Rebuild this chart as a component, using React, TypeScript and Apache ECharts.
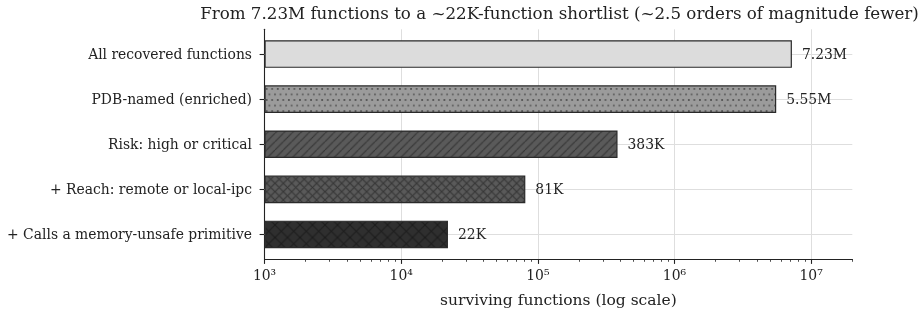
import React, { useEffect, useRef } from 'react';
import * as echarts from 'echarts';

// ---- data ----
const categories = [
  'All recovered functions',
  'PDB-named (enriched)',
  'Risk: high or critical',
  '+ Reach: remote or local-ipc',
  '+ Calls a memory-unsafe primitive',
];
const counts = [7230000, 5550000, 383000, 81000, 22000];
const valueLabels = ['7.23M', '5.55M', '383K', '81K', '22K'];
const majorTicks = [1e3, 1e4, 1e5, 1e6, 1e7];
const minorMultipliers = [2, 3, 4, 5, 6, 7, 8, 9];
const xMin = 1e3;
const xMax = 2e7;
const titleText = 'From 7.23M functions to a ~22K-function shortlist (~2.5 orders of magnitude fewer)';
const xAxisTitle = 'surviving functions (log scale)';

// ---- styles ----
const FONT = 'DejaVu Serif';
const INK = '#222222';
const GRID_COLOR = '#dedede';
const EDGE = '#2a2a2a';
const barLooks = [
  { fill: '#dcdcdc', hatch: 'none', period: 10, ink: '#333333' },
  { fill: '#9b9b9b', hatch: 'dots', period: 11.11, ink: '#2a2a2a' },
  { fill: '#5a5a5a', hatch: 'ne', period: 8.333, ink: '#333333' },
  { fill: '#5a5a5a', hatch: 'cross', period: 8.333, ink: '#333333' },
  { fill: '#2f2f2f', hatch: 'cross', period: 12.5, ink: '#1c1c1c' },
];

const SUP: Record<string, string> = {
  '0': '\u2070', '1': '\u00b9', '2': '\u00b2', '3': '\u00b3', '4': '\u2074',
  '5': '\u2075', '6': '\u2076', '7': '\u2077', '8': '\u2078', '9': '\u2079',
};

function minorTickValues(): number[] {
  const out: number[] = [];
  majorTicks.forEach((d) => {
    minorMultipliers.forEach((m) => {
      const v = m * d;
      if (v <= xMax) out.push(v);
    });
  });
  return out;
}

function makePattern(look: { fill: string; hatch: string; period: number; ink: string }): any {
  if (look.hatch === 'none') return look.fill;
  const N = 120;
  const k = N / look.period;
  const c = document.createElement('canvas');
  c.width = N;
  c.height = N;
  const g = c.getContext('2d')!;
  g.fillStyle = look.fill;
  g.fillRect(0, 0, N, N);
  g.strokeStyle = look.ink;
  g.fillStyle = look.ink;
  g.lineWidth = 1.0 * k;
  if (look.hatch === 'ne' || look.hatch === 'cross') {
    g.beginPath();
    for (let o = -N; o <= N; o += N) {
      g.moveTo(o, N);
      g.lineTo(o + N, 0);
    }
    g.stroke();
  }
  if (look.hatch === 'cross') {
    g.beginPath();
    for (let o = -N; o <= N; o += N) {
      g.moveTo(o, 0);
      g.lineTo(o + N, N);
    }
    g.stroke();
  }
  if (look.hatch === 'dots') {
    const pts = [
      [0, 0], [N / 2, 0], [N / 4, N / 2], [(3 * N) / 4, N / 2],
    ];
    const r = 0.75 * k;
    for (const [px, py] of pts) {
      for (let dx = -N; dx <= N; dx += N) {
        for (let dy = -N; dy <= N; dy += N) {
          g.beginPath();
          g.arc(px + dx, py + dy, r, 0, Math.PI * 2);
          g.fill();
        }
      }
    }
  }
  return {
    image: c.toDataURL(),
    repeat: 'repeat',
    imageWidth: look.period,
    imageHeight: look.period,
  };
}

function supLabel(v: number): string {
  const e = String(Math.round(Math.log10(v)));
  return '10' + e.split('').map((d) => SUP[d]).join('');
}

export default function App() {
  const ref = useRef<HTMLDivElement>(null);
  useEffect(() => {
    const chart = echarts.init(ref.current!, null, { renderer: 'svg' });
    const axL = 264.5;
    const axR = 921 - 852.3;
    const axTop = 29.3;
    const axBottom = 315 - 259;
    const bandTop = 31.5;
    const bandBottom = 315 - 257;
    const minors = minorTickValues();

    const option: any = {
      animation: false,
      textStyle: { fontFamily: FONT },
      graphic: [
        {
          type: 'text',
          x: 559.5,
          y: 13,
          silent: true,
          style: {
            text: titleText,
            font: `16.7px "${FONT}"`,
            fill: INK,
            align: 'center',
            verticalAlign: 'middle',
            textAlign: 'center',
            textVerticalAlign: 'middle',
          },
        },
      ],
      grid: [
        { left: axL, right: axR, top: bandTop, bottom: bandBottom },
        { left: axL, right: axR, top: axTop, bottom: axBottom },
      ],
      xAxis: [
        { gridIndex: 0, type: 'log', min: xMin, max: xMax, show: false, startValue: xMin },
        {
          gridIndex: 1,
          type: 'log',
          min: xMin,
          max: xMax,
          position: 'bottom',
          axisLine: { show: true, onZero: false, lineStyle: { color: INK, width: 1.1 } },
          axisTick: { show: true, customValues: majorTicks, length: 4.9, lineStyle: { color: INK, width: 1.1 } },
          axisLabel: {
            customValues: majorTicks,
            formatter: (v: number) => supLabel(v),
            fontSize: 13.9,
            color: INK,
            margin: 9,
            fontFamily: FONT,
          },
          splitLine: { show: true, lineStyle: { color: GRID_COLOR, width: 1 } },
          name: xAxisTitle,
          nameLocation: 'middle',
          nameGap: 32.5,
          nameTextStyle: { fontSize: 15.5, color: INK, fontFamily: FONT },
        },
        {
          gridIndex: 1,
          type: 'log',
          min: xMin,
          max: xMax,
          position: 'bottom',
          axisLine: { show: false, onZero: false },
          axisTick: { show: true, customValues: minors, length: 2.8, lineStyle: { color: INK, width: 0.8 } },
          axisLabel: { show: false },
          splitLine: { show: false },
        },
      ],
      yAxis: [
        {
          gridIndex: 0,
          type: 'category',
          data: categories,
          inverse: true,
          axisLine: { show: false },
          axisTick: { show: true, alignWithLabel: true, length: 4.9, lineStyle: { color: INK, width: 1.1 } },
          axisLabel: { fontSize: 13.9, color: INK, margin: 12.5, fontFamily: FONT },
          splitLine: { show: false },
        },
        {
          gridIndex: 1,
          type: 'value',
          min: 0,
          max: 1,
          axisLine: { show: true, onZero: false, lineStyle: { color: INK, width: 1.1 } },
          axisTick: { show: false },
          axisLabel: { show: false },
          splitLine: { show: false },
        },
      ],
      series: [
        {
          type: 'bar',
          xAxisIndex: 0,
          yAxisIndex: 0,
          silent: true,
          z: 2,
          barWidth: 27.6,
          data: counts.map((v, i) => ({
            value: v,
            itemStyle: { color: makePattern(barLooks[i]), borderColor: EDGE, borderWidth: 1.2 },
          })),
          label: {
            show: true,
            position: 'right',
            distance: 10,
            formatter: (p: any) => valueLabels[p.dataIndex],
            color: INK,
            fontSize: 13.9,
            fontFamily: FONT,
          },
          markLine: {
            silent: true,
            z: 1,
            symbol: ['none', 'none'],
            label: { show: false },
            lineStyle: { color: GRID_COLOR, width: 1, type: 'solid' },
            emphasis: { disabled: true },
            data: categories.map((c) => ({ yAxis: c })),
          },
        },
      ],
    };
    chart.setOption(option);
    return () => chart.dispose();
  }, []);
  return <div ref={ref} style={{ position: 'fixed', left: 0, top: 0, width: 921, height: 315 }} />;
}
